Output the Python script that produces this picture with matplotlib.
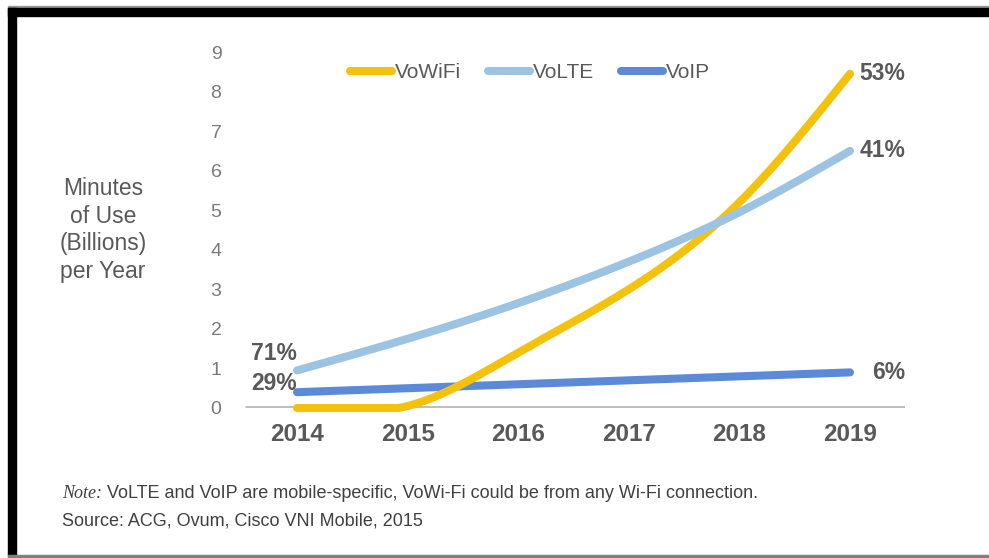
import numpy as np
import matplotlib
matplotlib.use("Agg")
import matplotlib.pyplot as plt
from matplotlib.patches import Rectangle

# ---- data ----
years = [2014, 2015, 2016, 2017, 2018, 2019]
vowifi = [0.0, 0.05, 1.4, 3.0, 5.2, 8.45]
volte = [0.95, 1.75, 2.65, 3.7, 4.95, 6.5]
voip = [0.4, 0.5, 0.6, 0.7, 0.8, 0.9]
series_names = ["VoWiFi", "VoLTE", "VoIP"]
start_labels = {"VoLTE": "71%", "VoIP": "29%"}
end_labels = {"VoWiFi": "53%", "VoLTE": "41%", "VoIP": "6%"}
yticks = list(range(0, 10))
ylabel = "Minutes\nof Use\n(Billions)\nper Year"
note_italic = "Note:"
note_rest = " VoLTE and VoIP are mobile-specific, VoWi-Fi could be from any Wi-Fi connection."
source = "Source: ACG, Ovum, Cisco VNI Mobile, 2015"

colors = {"VoWiFi": "#F4C20D", "VoLTE": "#9DC3E2", "VoIP": "#5D8AD8"}
TXT = "#595959"

plt.rcParams['font.family'] = ['Liberation Sans', 'DejaVu Sans']


def smooth(x, y, n=300):
    """Natural cubic spline rendering of a line through the points (smoothed line)."""
    x = np.asarray(x, float); y = np.asarray(y, float)
    m = len(x); h = np.diff(x)
    A = np.zeros((m, m)); b = np.zeros(m)
    A[0, 0] = A[-1, -1] = 1
    for i in range(1, m - 1):
        A[i, i - 1] = h[i - 1]; A[i, i] = 2 * (h[i - 1] + h[i]); A[i, i + 1] = h[i]
        b[i] = 6 * ((y[i + 1] - y[i]) / h[i] - (y[i] - y[i - 1]) / h[i - 1])
    M = np.linalg.solve(A, b)
    xs = np.linspace(x[0], x[-1], n)
    idx = np.clip(np.searchsorted(x, xs) - 1, 0, m - 2)
    hi = h[idx]; a = x[idx + 1] - xs; c = xs - x[idx]
    ys = (M[idx] * a**3 / (6 * hi) + M[idx + 1] * c**3 / (6 * hi)
          + (y[idx] / hi - M[idx] * hi / 6) * a + (y[idx + 1] / hi - M[idx + 1] * hi / 6) * c)
    return xs, ys


W, H = 989, 558
fig = plt.figure(figsize=(W / 100, H / 100), dpi=100)
fig.patch.set_facecolor("white")

ppu = (408 - 52) / 9.0
ytop = 9.35
ax_bottom_px, ax_top_px = 408, 408 - ytop * ppu
ax = fig.add_axes([245 / W, (H - ax_bottom_px) / H, 660 / W, (ax_bottom_px - ax_top_px) / H])
ppy = (850 - 297) / 5.0
ax.set_xlim(2014 - (297 - 245) / ppy, 2019 + (905 - 850) / ppy)
ax.set_ylim(0, ytop)
for s in ax.spines.values():
    s.set_visible(False)

ax.axhline(0, color="#BFBFBF", lw=3.6, zorder=1, solid_capstyle="butt")

data = {"VoWiFi": vowifi, "VoLTE": volte, "VoIP": voip}
order = ["VoIP", "VoWiFi", "VoLTE"]
handles = {}
for name in series_names:
    xs, ys = smooth(years, data[name])
    ys = np.maximum(ys, 0)
    ln, = ax.plot(xs, ys, color=colors[name], lw=5.8, solid_capstyle="round",
                  zorder=3 + order.index(name), clip_on=False, label=name)
    handles[name] = ln

ax.set_yticks(yticks)
ax.set_yticklabels([str(v) for v in yticks], fontsize=14, color="#7A7A7A")
ax.set_xticks(years)
ax.set_xticklabels([str(y) for y in years], fontsize=17.5, fontweight="bold", color=TXT)
ax.tick_params(axis="y", length=0, pad=17)
ax.tick_params(axis="x", length=0, pad=11)

fig.text(103 / W, 1 - 230 / H, ylabel, ha="center", va="center", fontsize=16.5,
         color=TXT, linespacing=1.25)

for name, lab in end_labels.items():
    ax.annotate(lab, xy=(1.0, data[name][-1]), xycoords=("axes fraction", "data"),
                ha="right", va="center", fontsize=16.5, fontweight="bold", color=TXT,
                annotation_clip=False)
offs = {"VoLTE": 17, "VoIP": 9}
for name, lab in start_labels.items():
    ax.annotate(lab, xy=(years[0], data[name][0]), xytext=(0, offs[name]),
                textcoords="offset pixels", ha="right", va="center", fontsize=16.5,
                fontweight="bold", color=TXT, annotation_clip=False)

leg = fig.legend([handles[n] for n in series_names], series_names, ncol=3,
                 loc="center", bbox_to_anchor=(530 / W, 1 - 73 / H), frameon=False,
                 fontsize=15, handlelength=2.0, handletextpad=0.15, columnspacing=1.3,
                 labelcolor=TXT)

fig.canvas.draw()
r = fig.canvas.get_renderer()
t1 = fig.text(62 / W, 1 - 494 / H, note_italic, ha="left", va="center", fontsize=13,
              fontstyle="italic", family=["Liberation Serif", "DejaVu Serif"], color="#404040")
bb = t1.get_window_extent(renderer=r)
fig.text(bb.x1 / W, 1 - 494 / H, note_rest, ha="left", va="center", fontsize=13, color="#404040")
fig.text(62 / W, 1 - 521 / H, source, ha="left", va="center", fontsize=13, color="#404040")


def px_rect(x0, y0, x1, y1, color):
    fig.patches.append(Rectangle((x0 / W, 1 - y1 / H), (x1 - x0) / W, (y1 - y0) / H,
                                 transform=fig.transFigure, color=color, zorder=10))

px_rect(8, 6, W, 8, "#9A9A9A")
px_rect(8, 8, W, 16, "black")
px_rect(8, 8, 16, 556, "black")
px_rect(8, 555, W, 557, "#808080")

fig.savefig("out.png", dpi=100, facecolor="white")
